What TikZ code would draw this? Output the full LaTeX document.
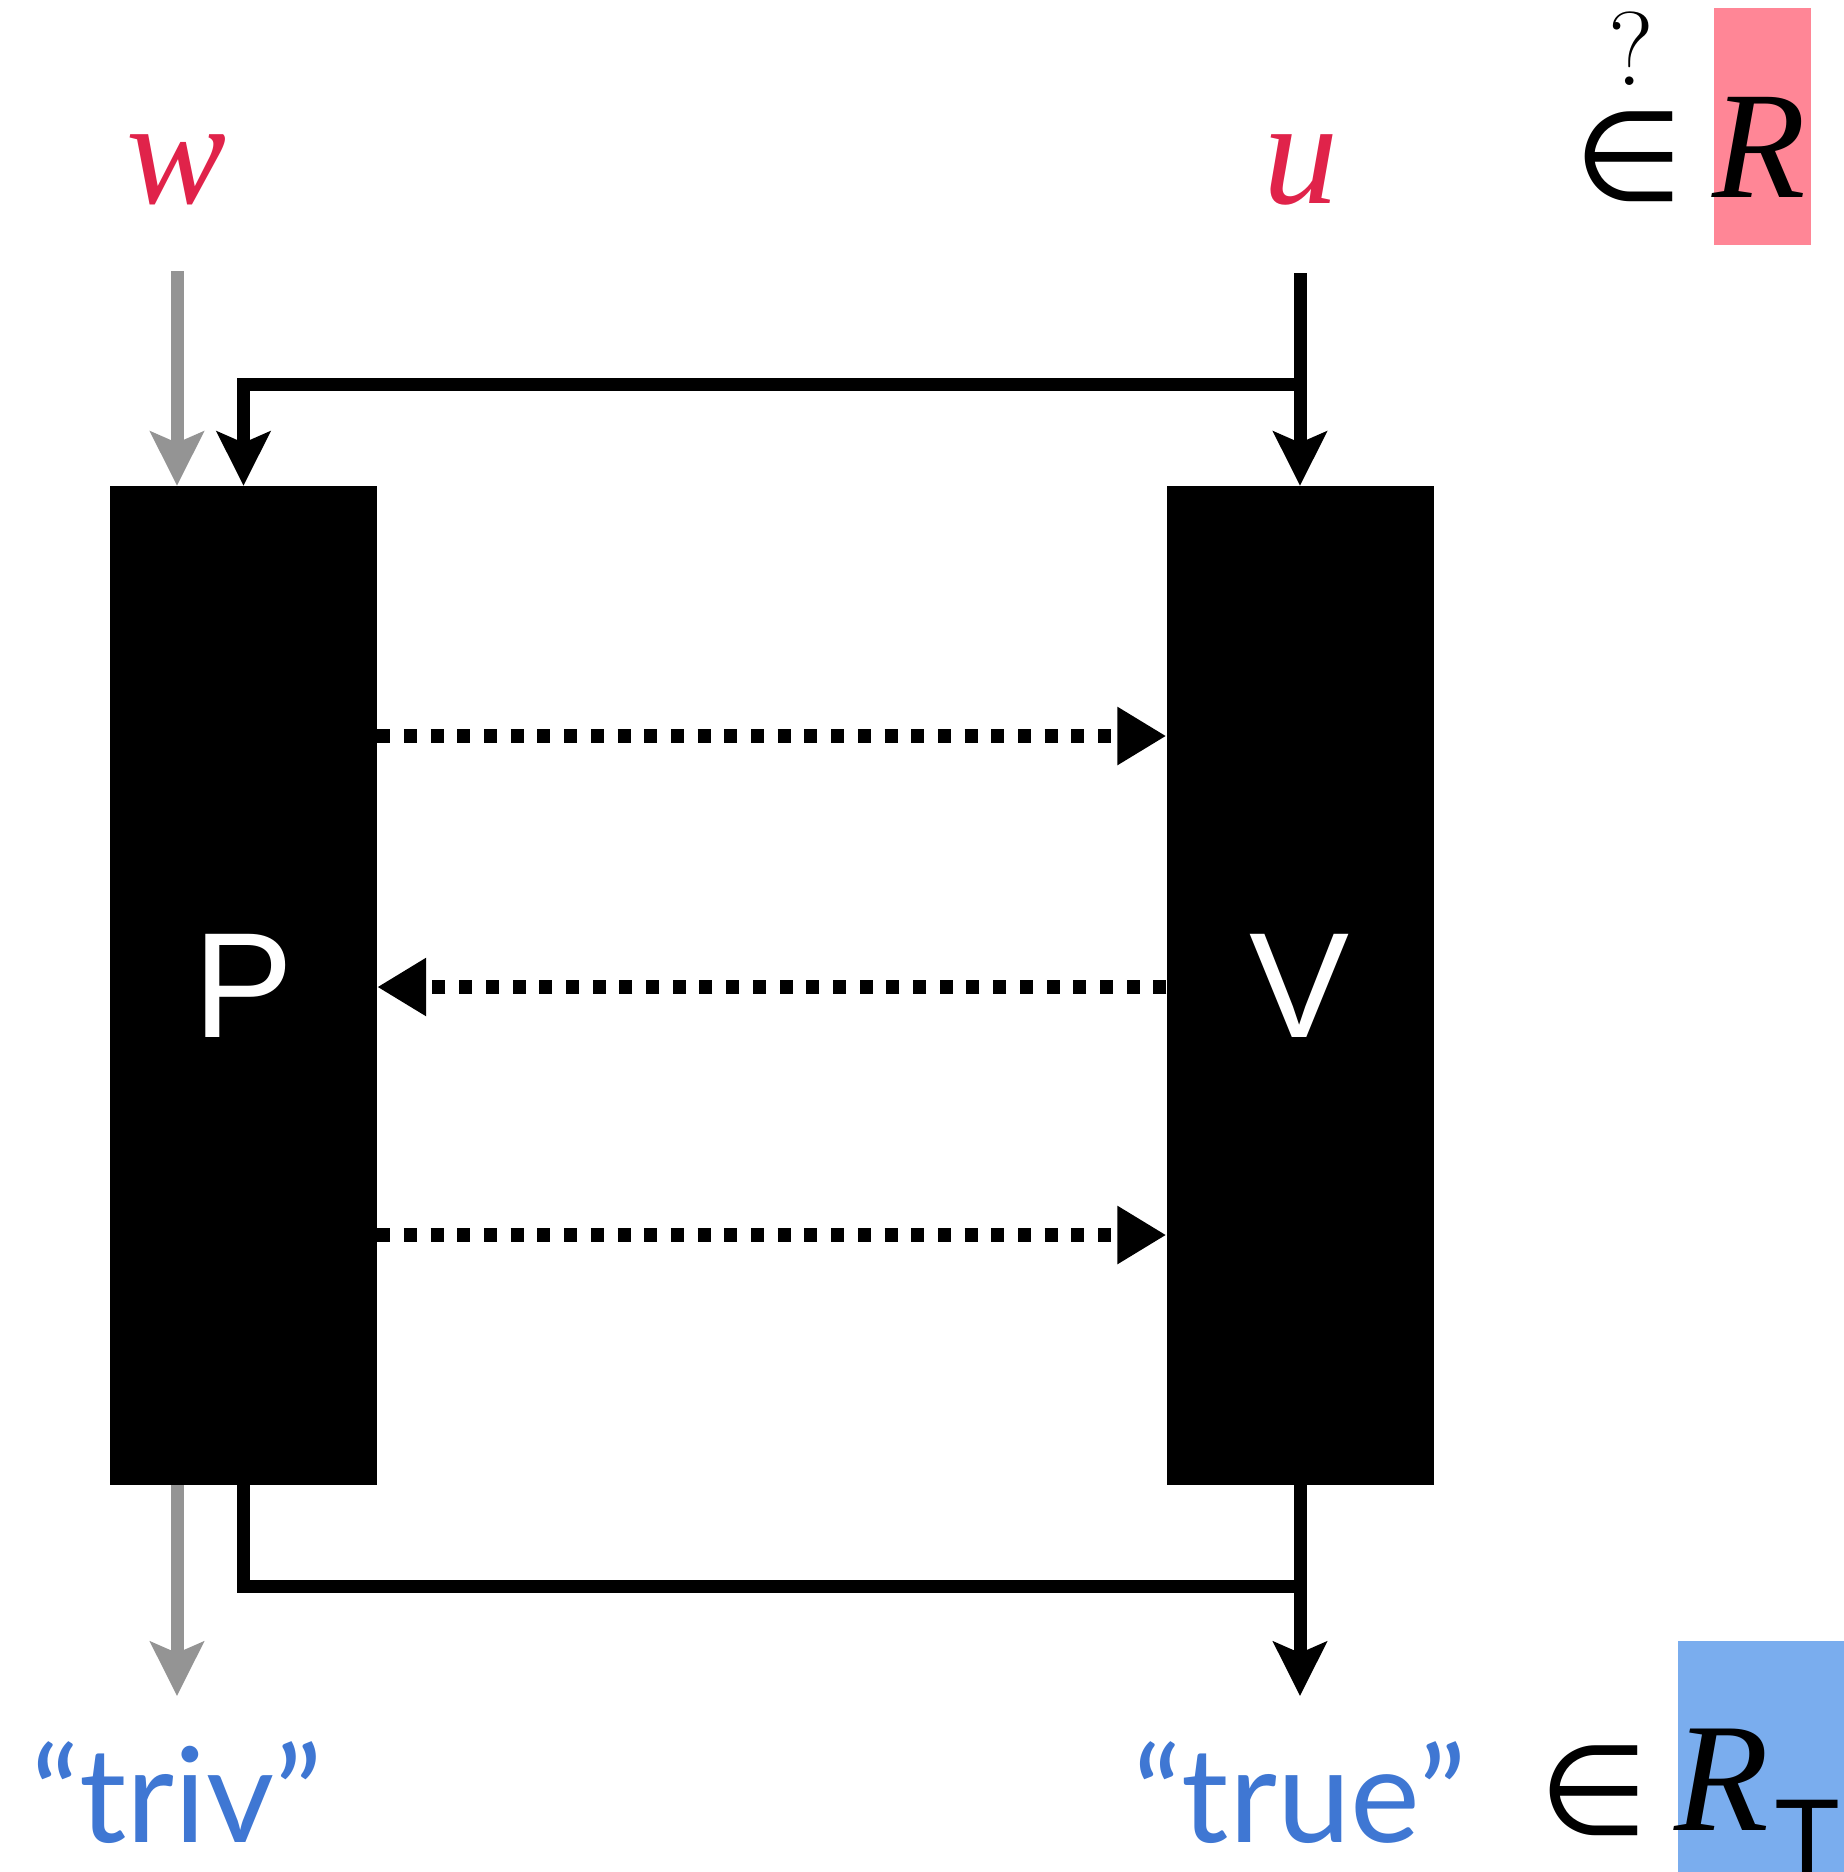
\documentclass[tikz,border=0pt]{standalone}
\usepackage{fontspec}
\setmainfont{Liberation Serif}
\newfontfamily\latofont{Lato}
\newfontfamily\arialfont{Liberation Sans}
\newfontfamily\lmfont{Latin Modern Roman}
\newfontfamily\djfont{DejaVu Sans}
\usetikzlibrary{arrows.meta}
\definecolor{wred}{HTML}{E0234A}
\definecolor{qblue}{HTML}{3F77D3}
\definecolor{pinkbox}{HTML}{FF8696}
\definecolor{bluebox}{HTML}{7AADEE}
\definecolor{wgray}{HTML}{949494}
\begin{document}
\begin{tikzpicture}[x=1pt,y=-1pt,
  agent/.style={fill=black,text=white,minimum width=267pt,minimum height=999pt,inner sep=0pt,
    font=\arialfont\fontsize{150}{150}\selectfont},
  vartext/.style={anchor=base,text=wred,inner sep=0pt,font=\fontsize{150}{150}\selectfont\itshape},
  outtext/.style={anchor=base,text=qblue,inner sep=0pt,font=\latofont\fontsize{132}{132}\selectfont},
  elem/.style={inner sep=0pt,font=\djfont\fontsize{125}{125}\selectfont},
  wire/.style={line width=13pt,-{Stealth[length=54pt,width=53pt,inset=11pt]}},
  plain/.style={line width=13pt},
  msg/.style={line width=14pt,dash pattern=on 13pt off 13.7pt,-{Triangle[length=49pt,width=55pt]}}
]
\useasboundingbox (0,0) rectangle (1844,1872);
% coloured backgrounds
\fill[pinkbox] (1714,8) rectangle (1811,245);
\fill[bluebox] (1678,1641) rectangle (1844,1872);
% agents
\node[agent] (P) at (243.5,985.5) {P};
\node[agent] (V) at (1300,985.5) {V};
% inputs
\node[vartext] (w) at (177,203) {w};
\node[vartext] (u) at (1301,203) {u};
\coordinate (wstart) at (177,271);
\coordinate (ustart) at (1300,273);
\coordinate (topbar) at (1300,384);
\draw[wire,wgray] (wstart) -- (wstart |- P.north);
\draw[wire] (ustart) -- (V.north);
\draw[wire,line join=miter] (topbar) -| (P.north);
% messages
\coordinate (m1) at (0,736);
\coordinate (m2) at (0,987);
\coordinate (m3) at (0,1235);
\draw[msg] (P.east |- m1) -- (V.west |- m1);
\draw[msg] (V.west |- m2) -- (P.east |- m2);
\draw[msg] (P.east |- m3) -- (V.west |- m3);
% outputs
\coordinate (wend) at (177,1696);
\coordinate (vend) at (1300,1696);
\coordinate (botbar) at (1306,1586);
\draw[wire,wgray] (wend |- P.south) -- (wend);
\draw[wire] (V.south) -- (vend);
\draw[plain,line join=miter] (P.south) |- (botbar);
\node[outtext] (triv) at (177,1842) {“triv”};
\node[outtext] (true) at (1300,1842) {“true”};
% relation membership
\node[elem,anchor=base] (in1) at (1629,200) {∈};
\node[anchor=base,inner sep=0pt,font=\lmfont\fontsize{105}{105}\selectfont] (q) at (1631,85) {?};
\node[anchor=base,inner sep=0pt,font=\fontsize{153}{153}\selectfont\itshape] (R1) at (1759,197) {R};
\node[elem,anchor=base] (in2) at (1594,1834) {∈};
\node[anchor=base,inner sep=0pt,font=\fontsize{155}{155}\selectfont\itshape] (R2) at (1722,1830) {R};
\node[anchor=base,inner sep=0pt,font=\arialfont\fontsize{108}{108}\selectfont] (T) at (1807,1874) {T};
\end{tikzpicture}
\end{document}
